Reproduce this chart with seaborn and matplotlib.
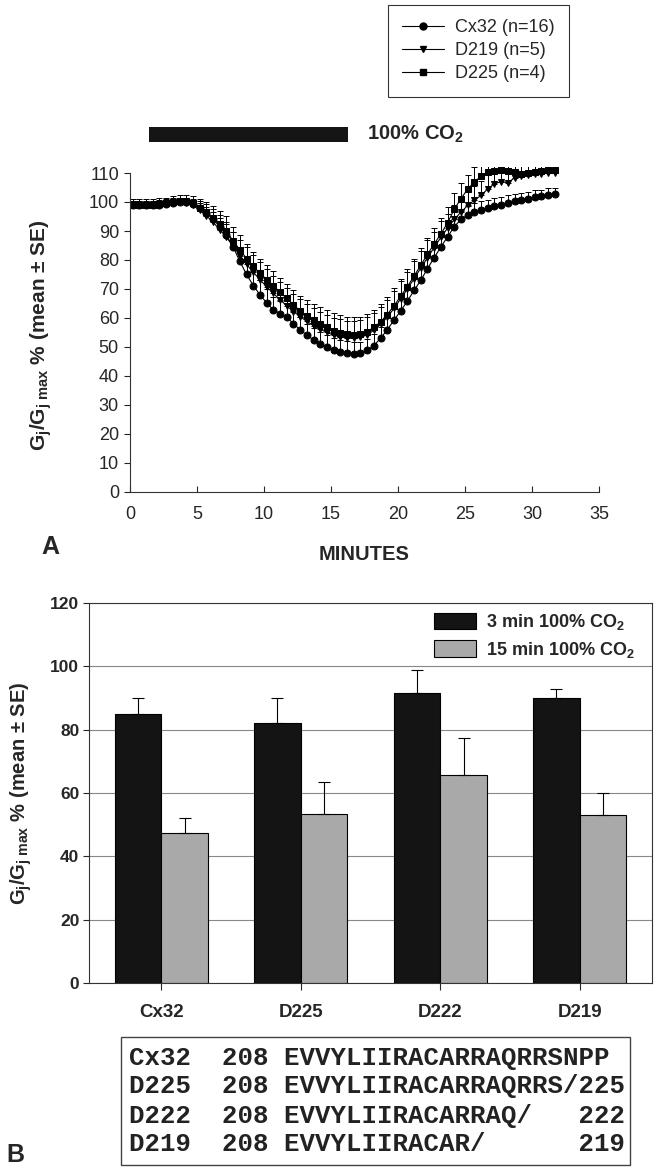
import numpy as np
import pandas as pd
import matplotlib
matplotlib.use('Agg')
import matplotlib.pyplot as plt
from matplotlib.lines import Line2D
from matplotlib.patches import Rectangle, Patch
import seaborn as sns

# ---- panel A : time course (mean, minus-SE only) ----
minutes = [0.2, 0.7, 1.2, 1.7, 2.2, 2.7, 3.2, 3.7,
           4.2, 4.7, 5.2, 5.7, 6.2, 6.7, 7.2, 7.7,
           8.2, 8.7, 9.2, 9.7, 10.2, 10.7, 11.2, 11.7,
           12.2, 12.7, 13.2, 13.7, 14.2, 14.7, 15.2, 15.7,
           16.2, 16.7, 17.2, 17.7, 18.2, 18.7, 19.2, 19.7,
           20.2, 20.7, 21.2, 21.7, 22.2, 22.7, 23.2, 23.7,
           24.2, 24.7, 25.2, 25.7, 26.2, 26.7, 27.2, 27.7,
           28.2, 28.7, 29.2, 29.7, 30.2, 30.7, 31.2, 31.7]

cx32_mean = [99, 99, 99, 99, 99, 99.3, 99.6, 100,
             100, 99.2, 98, 96.3, 94, 91.5, 88.5, 84.5,
             79.5, 75, 71.2, 68, 65.2, 62.8, 61.5, 60.3,
             58, 56, 54, 52.5, 51.1, 50, 49.1, 48.4,
             47.9, 47.6, 47.8, 48.8, 50.5, 53, 56, 59.2,
             62.5, 65.8, 69.5, 73, 77, 80.8, 84.5, 88,
             91.5, 94, 95.5, 96.5, 97.2, 97.9, 98.5, 99.1,
             99.7, 100.2, 100.7, 101.2, 101.6, 102, 102.4, 102.6]
cx32_se = [1.5, 1.5, 1.5, 1.5, 1.5, 1.5, 1.5, 1.5,
           1.5, 2, 2.5, 3, 3.5, 4, 4.5, 5,
           5, 5, 5, 5, 4.8, 4.6, 4.5, 4.4,
           4.3, 4.2, 4.1, 4, 4, 4, 4, 4,
           4, 4, 4, 4, 4, 4, 4, 4,
           4, 4.2, 4.4, 4.5, 4.5, 4.5, 4.3, 4,
           3.5, 3, 3, 3, 3, 2.8, 2.8, 2.7,
           2.6, 2.5, 2.5, 2.4, 2.4, 2.3, 2.3, 2.2]

d219_mean = [99, 99, 99, 99, 99.2, 99.5, 99.8, 100,
             99.8, 98.8, 97.2, 95.3, 93, 90.5, 87.8, 84.8,
             81.5, 78.5, 75.8, 73.2, 70.8, 68.5, 66.3, 64.2,
             62.2, 60.5, 58.8, 57.4, 56.1, 55, 54.1, 53.5,
             53.1, 53, 53.3, 54.2, 55.8, 57.8, 60.3, 63.3,
             66.6, 70, 73.6, 77.2, 80.8, 84.3, 87.8, 91,
             94, 96.5, 98.8, 100.6, 102.3, 104.5, 106.3, 107,
             106.7, 108.3, 109, 109.4, 109.6, 109.8, 110, 110]
d219_se = [1.5, 1.5, 1.5, 1.5, 1.5, 1.5, 1.5, 1.5,
           1.5, 2, 2.5, 3, 3.5, 4, 4.5, 5,
           5.5, 6, 6, 6, 6, 6, 6, 6,
           6, 6, 6, 6, 6, 6, 6, 6,
           6, 6, 6, 6, 6, 6, 6, 6,
           6, 6, 6, 6, 6, 5.5, 5.5, 5,
           5, 5, 5, 5, 5, 5, 5, 5,
           5, 5, 4.5, 4.5, 4.5, 4.5, 4.5, 4.5]

d225_mean = [99, 99, 99, 99, 99.3, 99.5, 100, 100.3,
             100.3, 99.5, 98, 96.5, 94.5, 92.5, 90, 86.5,
             83.5, 80.5, 77.8, 75.5, 73.2, 71.2, 68.8, 66.8,
             64.5, 62.5, 60.7, 59.3, 57.9, 56.8, 55.6, 54.9,
             54.5, 54.3, 54.5, 55.3, 56.8, 58.7, 61.2, 64.2,
             67.5, 70.8, 74.5, 78.2, 82, 85.5, 89, 92.8,
             97.5, 101.2, 104.4, 107, 108.8, 110.2, 110.8, 111,
             110.8, 110.4, 109.8, 110, 110.4, 110.7, 110.9, 111]
d225_se = [2, 2, 2, 2, 2, 2, 2, 2,
           2, 2.5, 3, 3.5, 4, 4.5, 5, 5,
           5, 5, 5, 5, 5, 5, 5, 5,
           5, 5, 5.5, 5.5, 6, 6, 6, 6,
           6, 6, 6, 6, 6, 6, 6, 6,
           6, 6, 6, 6, 5.5, 5.5, 5.5, 5.5,
           5.5, 5.5, 5, 5, 5, 5, 5, 5,
           5, 5, 5, 5, 5, 5, 5, 5]

groups = ['Cx32 (n=16)', 'D219 (n=5)', 'D225 (n=4)']
group_markers = ['o', 'v', 's']
co2_start, co2_end = 1.45, 16.3

# ---- panel B : bars ----
mutants = ['Cx32', 'D225', 'D222', 'D219']
times = ['3 min 100% CO$_\\mathbf{2}$', '15 min 100% CO$_\\mathbf{2}$']
gj_3min = [85, 82, 91.5, 90]
gj_3min_se = [5, 8, 7.5, 2.7]
gj_15min = [47.4, 53.5, 65.8, 53]
gj_15min_se = [4.8, 10, 11.5, 7]

seq_lines = ['Cx32  208 EVVYLIIRACARRAQRRSNPP',
             'D225  208 EVVYLIIRACARRAQRRS/225',
             'D222  208 EVVYLIIRACARRAQ/   222',
             'D219  208 EVVYLIIRACAR/      219']

sns.set_theme(style='ticks')
plt.rcParams['font.family'] = ['Liberation Sans', 'DejaVu Sans']
plt.rcParams['mathtext.fontset'] = 'custom'
plt.rcParams['mathtext.rm'] = 'Liberation Sans'
plt.rcParams['mathtext.it'] = 'Liberation Sans:italic'
plt.rcParams['mathtext.bf'] = 'Liberation Sans:bold'

W, H = 658, 1169
fig = plt.figure(figsize=(W / 100, H / 100), dpi=100)

ylab = r'$\mathbf{G_j/G_{j\ max}}$ % (mean ± SE)'

# ================= panel A =================
axA = fig.add_axes([130 / W, 1 - 492 / H, 469 / W, 324.8 / H])

dfa = pd.concat([
    pd.DataFrame({'minutes': minutes, 'value': m, 'se': s, 'group': g})
    for g, m, s in zip(groups, [cx32_mean, d219_mean, d225_mean],
                       [cx32_se, d219_se, d225_se])
])

for g in groups:
    sub = dfa[dfa['group'] == g]
    axA.errorbar(sub['minutes'], sub['value'],
                 yerr=[np.zeros(len(sub)), sub['se']], fmt='none',
                 ecolor='black', elinewidth=0.7, capsize=2, capthick=0.7, zorder=1)

sns.lineplot(data=dfa, x='minutes', y='value', hue='group', style='group',
             hue_order=groups, style_order=groups, markers=group_markers,
             dashes=False, palette=['black'] * 3, linewidth=0.8, markersize=5,
             markeredgecolor='black', errorbar=None, sort=False, legend=False,
             ax=axA, zorder=2)

axA.set_xlim(0, 35)
axA.set_ylim(0, 112)
axA.set_xticks(range(0, 36, 5))
axA.set_yticks(range(0, 111, 10))
sns.despine(ax=axA)
axA.spines['left'].set_bounds(0, 110)
for s in ['left', 'bottom']:
    axA.spines[s].set_linewidth(0.8)
    axA.spines[s].set_color('#333333')
axA.tick_params(axis='x', direction='in', length=4, width=0.8, pad=10, labelsize=13)
axA.tick_params(axis='y', direction='out', length=4, width=0.8, pad=4, labelsize=13)
axA.set_xlabel('MINUTES', fontsize=14.5, fontweight='bold', labelpad=16)
axA.set_ylabel(ylab, fontsize=15, fontweight='bold')
axA.yaxis.set_label_coords(-0.163, 108 / 2 / 112)

# CO2 application bar
axA.add_patch(Rectangle((co2_start, 120.7), co2_end - co2_start, 5.2,
                        facecolor='#151515', edgecolor='none', clip_on=False))
axA.text(17.7, 123.3, '100% CO$_\\mathbf{2}$', fontsize=14.5, fontweight='bold',
         ha='left', va='center')

handles = [Line2D([], [], color='black', marker=m, markersize=5, lw=0.8)
           for m in group_markers]
legA = fig.legend(handles, groups, loc='upper left',
                  bbox_to_anchor=(388 / W, 1 - 5 / H), frameon=True, fancybox=False,
                  edgecolor='black', fontsize=13, handlelength=2.3,
                  borderpad=0.8, borderaxespad=0, labelspacing=0.33,
                  handletextpad=0.6)
legA.get_frame().set_linewidth(0.8)

fig.text(50 / W, 1 - 547 / H, 'A', fontsize=18, fontweight='bold',
         ha='center', va='center')

# ================= panel B =================
axB = fig.add_axes([89 / W, 1 - 983 / H, 563 / W, 380 / H])

dfb = pd.DataFrame({
    'mutant': mutants * 2,
    'value': gj_3min + gj_15min,
    'time': [times[0]] * 4 + [times[1]] * 4,
})
sns.barplot(data=dfb, x='mutant', y='value', hue='time', order=mutants,
            hue_order=times, palette=['#141414', '#a9a9a9'], edgecolor='black',
            linewidth=0.8, width=0.67, errorbar=None, legend=False, ax=axB)

for cont, se in zip(axB.containers, [gj_3min_se, gj_15min_se]):
    xs = [b.get_x() + b.get_width() / 2 for b in cont]
    ys = [b.get_height() for b in cont]
    axB.errorbar(xs, ys, yerr=[np.zeros(len(se)), se], fmt='none',
                 ecolor='black', elinewidth=0.8, capsize=4, capthick=0.8)

axB.set_ylim(0, 120)
axB.set_yticks(range(0, 121, 20))
axB.yaxis.grid(True, color='#888888', lw=0.8)
axB.set_axisbelow(True)
for s in axB.spines.values():
    s.set_linewidth(0.8)
    s.set_color('#333333')
axB.tick_params(axis='x', direction='out', length=5, width=0.8, pad=10, labelsize=13.5)
axB.tick_params(axis='y', direction='out', length=4, width=0.8, pad=3, labelsize=12.5)
for lab in axB.get_xticklabels() + axB.get_yticklabels():
    lab.set_fontweight('bold')
axB.set_xlabel('')
axB.set_ylabel(ylab, fontsize=14.5, fontweight='bold')
axB.yaxis.set_label_coords(-0.098, 0.5)

legB = axB.legend([Patch(facecolor=c, edgecolor='black', lw=0.8)
                   for c in ['#141414', '#a9a9a9']], times,
                  loc='upper left', bbox_to_anchor=(0.613, 0.975), frameon=False,
                  borderpad=0, borderaxespad=0, prop={'size': 13, 'weight': 'bold'},
                  handlelength=2.3, handleheight=1.0, labelspacing=0.4,
                  handletextpad=0.6)

# sequence box
fig.add_artist(Rectangle((121 / W, 1 - 1165 / H), 509 / W, 128 / H,
                         transform=fig.transFigure, fill=False,
                         edgecolor='#444444', lw=1))
for line, ypx in zip(seq_lines, [1058, 1086, 1116, 1144]):
    fig.text(129 / W, 1 - ypx / H, line, family='Liberation Mono',
             fontweight='bold', fontsize=18.5, va='center', ha='left',
             color='#222222')

fig.text(15 / W, 1 - 1155 / H, 'B', fontsize=18, fontweight='bold',
         ha='center', va='center')

fig.savefig('out.png', dpi=100)
